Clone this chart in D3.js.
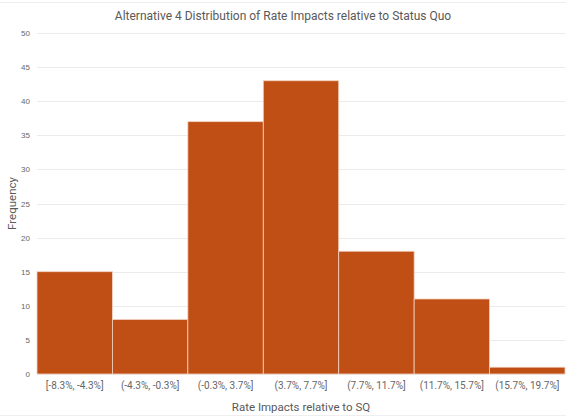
<!DOCTYPE html>
<html>
<head>
<meta charset="utf-8">
<script src="https://cdn.jsdelivr.net/npm/d3@7"></script>
<style>
  html, body { margin: 0; padding: 0; background: #fff; }
  svg { display: block; }
  text { font-family: "Roboto", "Liberation Sans", sans-serif; }
</style>
</head>
<body>
<svg id="chart" width="566" height="418"></svg>
<script>
// Histogram bins and their counts
const bins = ["[-8.3%, -4.3%]", "(-4.3%, -0.3%]", "(-0.3%, 3.7%]", "(3.7%, 7.7%]", "(7.7%, 11.7%]", "(11.7%, 15.7%]", "(15.7%, 19.7%]"];
const counts = [15, 8, 37, 43, 18, 11, 1];
const yTicks = [0, 5, 10, 15, 20, 25, 30, 35, 40, 45, 50];

const titleText = "Alternative 4 Distribution of Rate Impacts relative to Status Quo";
const xTitle = "Rate Impacts relative to SQ";
const yTitle = "Frequency";

const W = 566, H = 418;
const margin = { top: 33, right: 1, bottom: 44, left: 37 };
const svg = d3.select("#chart");

// outer chart frame lines
svg.append("line").attr("x1", 0).attr("x2", W).attr("y1", 2.5).attr("y2", 2.5)
  .attr("stroke", "#eeeeee").attr("stroke-width", 1);
svg.append("line").attr("x1", 0).attr("x2", W).attr("y1", 415.5).attr("y2", 415.5)
  .attr("stroke", "#eeeeee").attr("stroke-width", 1);

const x = d3.scaleBand().domain(bins).range([margin.left, W - margin.right]).padding(0);
const y = d3.scaleLinear().domain([0, 50]).range([H - margin.bottom, margin.top]);

// horizontal gridlines
svg.append("g")
  .selectAll("line")
  .data(yTicks)
  .join("line")
  .attr("x1", margin.left)
  .attr("x2", W - margin.right)
  .attr("y1", d => Math.round(y(d)) + 0.5)
  .attr("y2", d => Math.round(y(d)) + 0.5)
  .attr("stroke", "#ebebeb")
  .attr("stroke-width", 1);

// y axis labels
const yAxis = d3.axisLeft(y).tickValues(yTicks).tickSize(0).tickPadding(0);
const gy = svg.append("g").attr("transform", `translate(${margin.left - 7},0)`).call(yAxis);
gy.select(".domain").remove();
gy.selectAll("text").attr("fill", "#666666").style("font-size", "8px")
  .style("font-family", "'Liberation Sans', sans-serif");

// bars
svg.append("g")
  .selectAll("rect")
  .data(counts)
  .join("rect")
  .attr("x", (d, i) => x(bins[i]))
  .attr("width", x.bandwidth())
  .attr("y", d => y(d))
  .attr("height", d => y(0) - y(d))
  .attr("fill", "#C04F15")
  .attr("stroke", "#f3d3c2")
  .attr("stroke-width", 0.8);

// x axis labels
const xAxis = d3.axisBottom(x).tickSize(0).tickPadding(0);
const gx = svg.append("g").attr("transform", `translate(0,${H - margin.bottom + 8})`).call(xAxis);
gx.select(".domain").remove();
gx.selectAll("text").attr("fill", "#666666").style("font-size", "10px");

// titles
svg.append("text")
  .attr("x", W / 2).attr("y", 20)
  .attr("text-anchor", "middle")
  .attr("fill", "#595959")
  .style("font-size", "12px")
  .text(titleText);

svg.append("text")
  .attr("x", (margin.left + W - margin.right) / 2).attr("y", 411)
  .attr("text-anchor", "middle")
  .attr("fill", "#595959")
  .style("font-size", "11.5px")
  .text(xTitle);

svg.append("text")
  .attr("transform", `translate(16,${(margin.top + H - margin.bottom) / 2}) rotate(-90)`)
  .attr("text-anchor", "middle")
  .attr("fill", "#595959")
  .style("font-size", "11.5px")
  .text(yTitle);
</script>
</body>
</html>
